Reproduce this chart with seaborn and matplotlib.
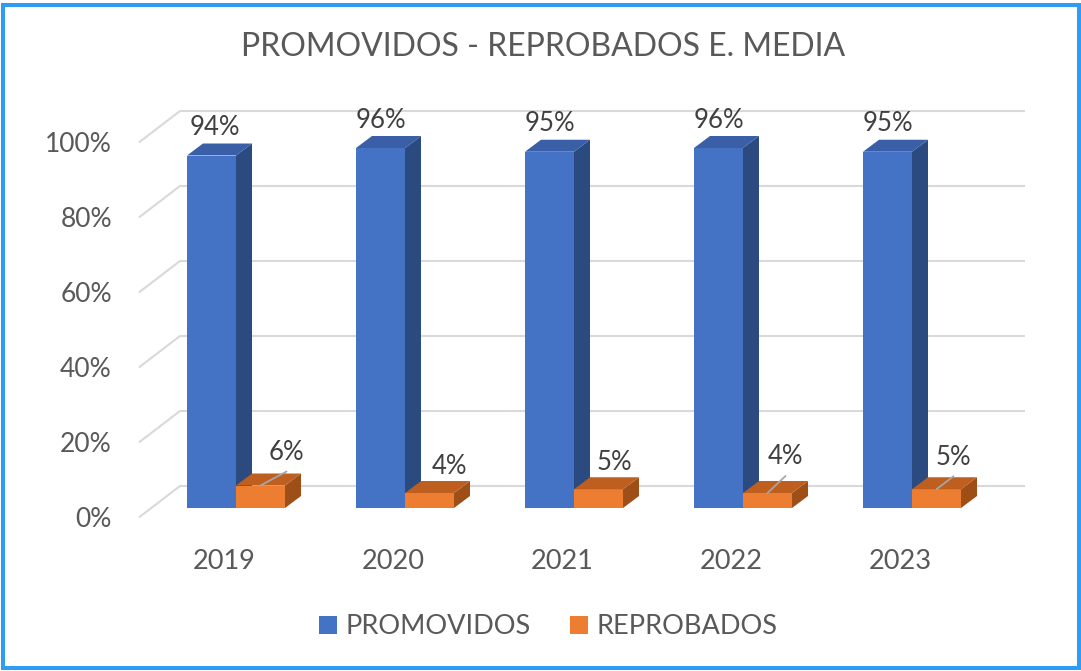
import matplotlib
matplotlib.use("Agg")
import matplotlib.pyplot as plt
from matplotlib.patches import Polygon, Rectangle, Patch
import matplotlib.transforms as mtransforms
import pandas as pd
import seaborn as sns

# ---- data ----
years = ["2019", "2020", "2021", "2022", "2023"]
promovidos = [94, 96, 95, 96, 95]
reprobados = [6, 4, 5, 4, 5]
series = ["PROMOVIDOS", "REPROBADOS"]
y_ticks = [0, 20, 40, 60, 80, 100]
title = "PROMOVIDOS - REPROBADOS E. MEDIA"

df = pd.DataFrame({
    "year": years * 2,
    "value": promovidos + reprobados,
    "serie": [series[0]] * len(years) + [series[1]] * len(years),
})

# ---- style ----
BLUE, BLUE_TOP, BLUE_SIDE = "#4472C4", "#3A5FA6", "#2B4A80"
ORANGE, ORANGE_TOP, ORANGE_SIDE = "#ED7D31", "#BE5E1F", "#9E4F17"
TEXT = "#595959"
LABEL = "#404040"
GRID = "#D9D9D9"
FRAME = "#2D9CF2"

# label placement (pixels from the top-front centre of each bar)
promovidos_label_offsets = [(3, 28), (0, 27), (0, 28), (0, 28), (0, 28)]
reprobados_label_offsets = [(26, 33), (20, 27), (16, 27), (18, 36), (17, 32)]
reprobados_leaders = [True, False, False, True, True]

sns.set_theme(style="white")
plt.rcParams["font.family"] = ["Lato", "DejaVu Sans"]

W, H, DPI = 1081, 671, 100
fig = plt.figure(figsize=(W / DPI, H / DPI), dpi=DPI)
fig.patch.set_facecolor("white")

# plane of the bar fronts (pixel box)
left_px, right_px, bottom_px, top_px = 151.5, 996.5, 508.0, 133.0
ax = fig.add_axes([left_px / W, 1 - bottom_px / H,
                   (right_px - left_px) / W, (bottom_px - top_px) / H])

sns.barplot(data=df, x="year", y="value", hue="serie",
            palette=[BLUE, ORANGE], saturation=1, width=0.58,
            linewidth=0, ax=ax, legend=False, zorder=2)
ax.set_xlim(-0.5, len(years) - 0.5)
ax.set_ylim(0, 100)
ax.set_facecolor("none")
for s in ax.spines.values():
    s.set_visible(False)

# pixel -> data conversion on the bar plane
PX_X = (len(years)) / (right_px - left_px)
PX_Y = 100.0 / (bottom_px - top_px)

# back wall and side wall
wall_dx, wall_dy = 28.5, 22.0      # back wall offset (px)
edge_dx, edge_dy = -12.0, -9.0     # front edge offset (px)
x_left, x_right = -0.5, len(years) - 0.5
for v in y_ticks:
    ax.plot([x_left + wall_dx * PX_X, x_right + wall_dx * PX_X],
            [v + wall_dy * PX_Y, v + wall_dy * PX_Y],
            color=GRID, lw=1.5, zorder=0.5, clip_on=False,
            solid_capstyle="butt")
    ax.plot([x_left + edge_dx * PX_X, x_left + wall_dx * PX_X],
            [v + edge_dy * PX_Y, v + wall_dy * PX_Y],
            color=GRID, lw=1.5, zorder=0.5, clip_on=False)

# 3D faces of the columns
depth_dx, depth_dy = 16 * PX_X, 12 * PX_Y
bars = list(ax.patches)
n = len(years)
for i, p in enumerate(bars):
    is_blue = i < n
    top_c = BLUE_TOP if is_blue else ORANGE_TOP
    side_c = BLUE_SIDE if is_blue else ORANGE_SIDE
    z = 2.2 if is_blue else 3.2
    p.set_zorder(2.1 if is_blue else 3.1)
    x0, w, h = p.get_x(), p.get_width(), p.get_height()
    x1 = x0 + w
    top = Polygon([(x0, h), (x1, h), (x1 + depth_dx, h + depth_dy),
                   (x0 + depth_dx, h + depth_dy)], closed=True,
                  facecolor=top_c, edgecolor="none", zorder=z, clip_on=False)
    side = Polygon([(x1, 0), (x1, h), (x1 + depth_dx, h + depth_dy),
                    (x1 + depth_dx, depth_dy)], closed=True,
                   facecolor=side_c, edgecolor="none", zorder=z, clip_on=False)
    ax.add_patch(side)
    ax.add_patch(top)

    cx = x0 + w / 2
    j = i % n
    val = promovidos[j] if is_blue else reprobados[j]
    off = promovidos_label_offsets[j] if is_blue else reprobados_label_offsets[j]
    lx, ly = cx + off[0] * PX_X, h + off[1] * PX_Y
    ax.text(lx, ly, f"{val}%", ha="center", va="center",
            fontsize=18.5, color=LABEL, zorder=5, clip_on=False)
    if not is_blue and reprobados_leaders[j]:
        ax.plot([cx, lx], [h, ly - 19 * PX_Y], color="#A6A6A6", lw=1.3,
                zorder=4, clip_on=False)

# axis labels on the front edge
ax.set_yticks(y_ticks)
ax.set_yticklabels([f"{t}%" for t in y_ticks])
ax.set_xlabel("")
ax.set_ylabel("")
ax.tick_params(axis="y", length=0, pad=28.5, labelsize=19, labelcolor=TEXT)
ax.tick_params(axis="x", length=0, pad=29.5, labelsize=19.5, labelcolor=TEXT)
shift_y = mtransforms.ScaledTranslation(0, edge_dy / DPI, fig.dpi_scale_trans)
shift_x = mtransforms.ScaledTranslation(edge_dx / DPI, 0, fig.dpi_scale_trans)
for lab in ax.get_yticklabels():
    lab.set_transform(lab.get_transform() + shift_y)
for lab in ax.get_xticklabels():
    lab.set_transform(lab.get_transform() + shift_x)

# title
fig.text(543 / W, 1 - 47 / H, title, ha="center", va="center",
         fontsize=23, color=TEXT)

# legend
handles = [Patch(facecolor=BLUE, edgecolor="none"),
           Patch(facecolor=ORANGE, edgecolor="none")]
leg = fig.legend(handles, series, loc="center",
                 bbox_to_anchor=(548 / W, 1 - 627 / H), ncol=2, frameon=False,
                 fontsize=19.5, handlelength=0.68, handleheight=0.68,
                 handletextpad=0.3, columnspacing=1.45)
for t in leg.get_texts():
    t.set_color(TEXT)

# outer frame
fig.add_artist(Rectangle((2.5 / W, 3 / H), (W - 5) / W, (H - 7.5) / H,
                         transform=fig.transFigure, fill=False,
                         edgecolor=FRAME, lw=2.9))

fig.savefig("out.png", dpi=DPI, facecolor="white")
